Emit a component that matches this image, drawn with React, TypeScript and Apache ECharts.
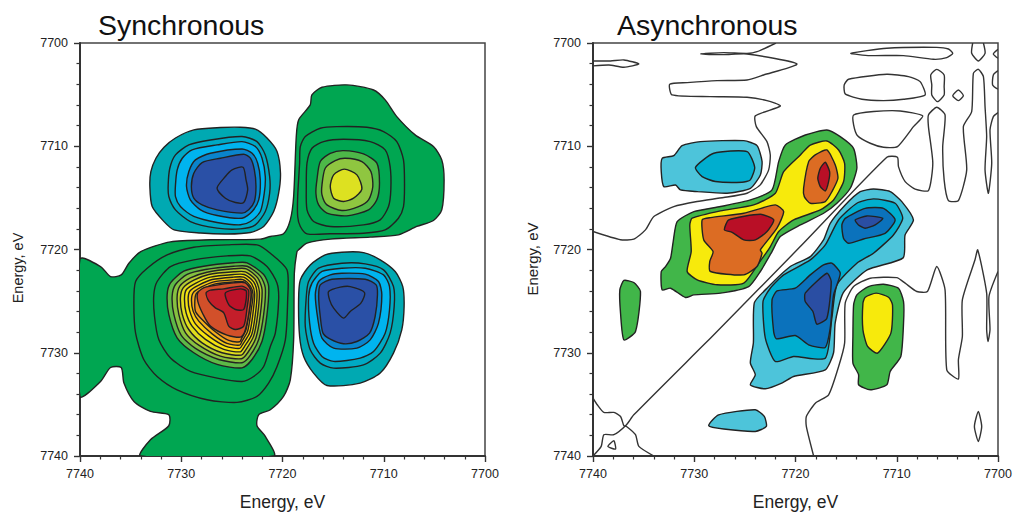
import React, { useEffect, useRef } from "react";
import * as echarts from "echarts";

// All contour vertices are [energy - 7700 on x, energy - 7700 on y], in eV.
type P = number[][];
const tickInterval = 10;
const axisMin = 7700;
const axisMax = 7740;
const panelTitles = ["Synchronous", "Asynchronous"];
const axisTitle = "Energy, eV";

// ---- Synchronous ----
const synGreenBase: P = [[40,20.94],[37.97,21.65],[36.98,22.62],[35.93,22.46],[35.17,21.33],[34,20.2],[31.06,19.26],[27.1,19.06],[22.19,19],[21.2,18.74],[19.9,18.48],[19.23,17.13],[18.9,14.87],[18.64,9.06],[18.41,7.45],[17.26,6],[17.1,5.03],[16.1,4.29],[13.64,4.06],[11,4.55],[9.86,5.51],[8.71,7.13],[6.9,8.9],[5.09,10.03],[4.27,11.32],[4.04,13.26],[4.27,16.16],[5.09,17.19],[6.74,17.77],[8.55,18.58],[11.34,18.8],[15.28,19],[17.58,19.39],[18.41,20.03],[18.57,20.2],[18.83,22.3],[18.9,28.75],[19.23,32.62],[19.9,34.23],[21.2,35.52],[22.35,36],[22.52,37.07],[21.7,38.1],[20.87,40],[34.02,40],[33.04,38.43],[31.23,37.07],[31.23,36],[33.04,35.68],[34.67,34.72],[35.66,32.94],[35.93,31.43],[36.98,31.43],[37.97,32.78],[40,34.23]];
const synUpperRing1: P = [[18.24,10.03],[17.75,9.06],[16.27,8.26],[14.63,8.1],[11.67,8.16],[10.02,8.58],[8.71,9.55],[8.05,11.32],[7.95,13.9],[8.05,15.84],[8.55,16.97],[9.86,18.1],[12,18.42],[15.28,18.48],[17.58,18.48],[18.24,17.77],[18.5,16.8],[18.5,14.87],[18.31,11.64]];
const synUpperRing2: P = [[17.58,11.64],[17.09,10.19],[15.94,9.55],[13.97,9.32],[11.34,9.55],[9.86,10.35],[9.37,11.97],[9.3,14.22],[9.53,15.84],[10.35,17.13],[12,17.61],[15.28,17.77],[16.93,17.29],[17.58,16.16],[17.65,13.9]];
const synUpperRing3: P = [[16.6,13.26],[16.27,11.48],[15.28,10.68],[13.97,10.42],[12,10.74],[10.68,11.64],[10.42,13.58],[10.68,15.19],[11.5,16.16],[13.64,16.74],[15.61,16.48],[16.43,15.68],[16.7,14.55]];
const synUpperRing4: P = [[16.1,13.74],[15.78,12.13],[14.79,11.39],[13.8,11.16],[12.16,11.48],[11.27,12.45],[11.08,13.9],[11.5,15.19],[12.49,15.84],[14.13,16.22],[15.61,15.68],[16.1,14.71]];
const synUpperRing5: P = [[15.28,13.9],[14.95,12.77],[13.9,12.22],[12.65,12.77],[12.16,14.16],[12.98,15.03],[13.97,15.35],[14.95,15.03]];

const synLowerRing1: P = [[34.68,25.2],[34.51,23.1],[33.36,21.81],[31.39,20.52],[28.76,19.78],[25.47,19.55],[22.52,19.55],[21.2,20.36],[19.56,21.97],[19.49,24.88],[19.72,28.75],[20.54,31.33],[21.37,32.94],[22.52,34.23],[24.49,34.81],[27.45,34.55],[30.41,33.59],[32.38,32.3],[33.69,30.68],[34.51,28.1]];
const synLowerRing2: P = [[32.71,24.39],[32.38,23.1],[31.06,21.65],[28.76,21],[25.47,20.62],[23.17,20.62],[21.53,21.65],[20.54,23.26],[20.38,24.88],[20.71,28.1],[21.2,29.39],[21.86,31.33],[22.85,32.3],[24,32.78],[26.46,32.46],[29.09,31.81],[31.06,30.52],[32.21,28.75],[32.64,26.49]];
const synHotRing0: P = [[31.39,24.36],[31.06,23.23],[29.75,22.1],[27.78,21.62],[24.82,21.29],[23.5,21.29],[21.86,22.42],[21.37,23.55],[21.53,26.29],[22.02,28.88],[23.01,30.65],[24,31.46],[26.46,31.13],[28.76,30],[30.41,28.55],[31.23,26.29]];
const synHotRing1: P = [[30.9,24.52],[30.57,23.39],[29.42,22.42],[27.61,21.94],[24.82,21.62],[23.5,21.62],[22.19,22.58],[21.7,23.71],[21.86,26.29],[22.35,28.71],[23.24,30.33],[24,30.97],[26.3,30.65],[28.6,29.58],[30.01,28.29],[30.73,26.29]];
const synHotRing2: P = [[30.41,24.62],[30.14,23.55],[29.09,22.75],[27.45,22.2],[24.82,21.87],[23.57,21.87],[22.45,22.75],[22.02,23.87],[22.19,26.29],[22.62,28.55],[23.44,30],[24.06,30.58],[26.13,30.33],[28.27,29.26],[29.58,28.07],[30.24,26.29]];
const synHotRing3: P = [[30.08,24.68],[29.81,23.71],[28.76,22.97],[27.28,22.42],[24.82,22.16],[23.67,22.16],[22.68,22.91],[22.29,24.04],[22.45,26.29],[22.85,28.39],[23.6,29.68],[24.06,30.23],[25.97,30],[27.94,29.04],[29.26,27.75],[29.91,26.23]];
const synHotRing4: P = [[29.68,24.75],[29.49,23.87],[28.5,23.23],[27.12,22.68],[24.82,22.42],[23.77,22.42],[22.85,23.13],[22.52,24.2],[22.68,26.29],[23.04,28.23],[23.77,29.42],[24.16,29.91],[25.8,29.68],[27.61,28.71],[28.93,27.42],[29.52,26.13]];
const synHotRing5: P = [[29.32,24.84],[29.16,24.04],[28.27,23.46],[26.95,22.91],[24.82,22.68],[23.83,22.68],[23.04,23.33],[22.75,24.29],[22.91,26.13],[23.24,28.07],[23.9,29.13],[24.23,29.58],[25.64,29.36],[27.28,28.39],[28.6,27.2],[29.16,25.97]];
const synHotRing6: P = [[28.99,24.94],[28.83,24.2],[28.04,23.65],[26.79,23.13],[24.82,22.94],[23.9,22.91],[23.17,23.55],[22.91,24.36],[23.11,25.97],[23.44,27.91],[24,28.88],[24.23,29.26],[25.48,29.1],[26.95,28.17],[28.27,26.94],[28.83,25.97]];
const synHotRing7: P = [[28.66,25],[28.53,24.29],[27.84,23.81],[26.63,23.33],[24.65,23.13],[23.83,23.13],[23.24,23.71],[23.08,24.42],[23.31,26.13],[23.6,27.75],[24.06,28.65],[24.23,28.94],[25.31,28.81],[26.63,27.97],[28.04,26.68],[28.6,25.97]];
const synHotRing8: P = [[28.34,24.13],[27.61,23.65],[24.82,23.23],[23.67,23.23],[23.11,24.04],[23.34,26.29],[23.77,28.07],[24.16,28.49],[25.48,28.29],[27.12,27.42],[27.84,26.29],[28.37,25]];
const synHotRing9: P = [[27.55,24.2],[27.12,23.94],[25.8,23.81],[24,23.55],[23.34,23.97],[23.5,25.65],[23.83,27.42],[24.65,27.75],[25.31,27.42],[25.8,26.13],[26.63,25.65],[27.28,25]];
const synHotRing10: P = [[25.64,24.2],[24.16,23.81],[23.57,24.04],[23.83,25.81],[24.65,25.81],[25.31,25.33]];

const synBlueA1: P = [[33.1,13.9],[33,12.45],[32.5,11.16],[31.7,10.1],[30.57,9.2],[28.76,8.42],[26.13,8.19],[24.16,8.16],[22.68,8.35],[21.53,9.2],[20.54,10.5],[20.2,12.6],[20.38,14.55],[20.87,16.32],[21.86,17.77],[23.17,18.35],[25.47,18.5],[28.1,18.4],[30.7,18.1],[31.7,17.3],[32.87,15.84]];
const synBlueA2: P = [[31.29,13.74],[31.13,12.13],[30.57,10.84],[29.25,9.87],[27.12,9.39],[24,9.06],[22.52,9.55],[21.7,10.84],[21.27,12.93],[21.27,14.55],[21.7,16.32],[22.68,17.61],[24.16,18],[26.46,17.93],[29.1,17.29],[30.57,16.16],[31.23,14.87]];
const synBlueA3: P = [[30.57,13.74],[30.4,12.29],[29.9,11.16],[28.93,10.35],[26.46,9.87],[24,9.55],[22.68,10.03],[22.02,11.16],[21.7,12.93],[21.8,14.55],[22.19,16.32],[23.17,17.29],[24.16,17.61],[26.46,17.39],[28.76,16.8],[30.08,15.84],[30.57,14.87]];
const synBlueA4: P = [[29.48,13.9],[29.25,12.45],[28.6,11.32],[27.12,10.68],[24,10.26],[23,10.68],[22.45,11.64],[22.19,13.26],[22.35,15.19],[23,16.32],[24,16.97],[26.46,16.71],[28.1,16.16],[29.1,15.19]];
const synBlueA5: P = [[29,13.9],[28.76,12.61],[27.94,11.58],[26.13,11.16],[23.83,10.77],[23.17,11.16],[22.78,12.29],[22.62,13.9],[22.78,15.35],[23.34,16.16],[24,16.48],[26.46,16.16],[27.94,15.68],[28.76,15.03]];
const synBlueA6: P = [[26.46,14.06],[25.64,12.93],[24.98,12.29],[23.9,12.03],[23.6,13.26],[23.44,14.23],[23.83,15.45],[24.65,15.45],[25.64,15.03]];

const synBlueB1: P = [[18.41,24.88],[18.24,22.94],[17.26,21.49],[15.78,20.52],[14.13,20.26],[12,20.3],[10.35,21],[8.87,22.13],[8.12,23.59],[7.99,25.52],[8.22,27.78],[9.04,30.04],[10.35,31.97],[12.33,32.94],[15.61,33.17],[16.93,31.97],[17.91,30.36],[18.31,28.43]];
const synBlueB2: P = [[17.65,24.55],[17.42,23.1],[16.43,21.81],[14.13,21.33],[11.83,21.39],[10.02,21.97],[9.04,23.59],[8.97,25.52],[9.37,28.1],[10.35,30.04],[12,31.17],[14.95,31.49],[16.27,31],[17.26,29.72],[17.75,27.46]];
const synBlueB3: P = [[17.42,24.55],[17.09,23.26],[16.1,22.13],[14.13,21.81],[11.83,21.81],[10.02,22.46],[9.43,23.59],[9.43,25.84],[9.86,28.1],[11.01,29.88],[12.33,30.52],[14.95,30.84],[16.1,30.36],[16.93,29.07],[17.32,27.13]];
const synBlueB4: P = [[16.76,24.39],[16.43,23.1],[15.28,22.46],[14.13,22.3],[11.83,22.39],[10.52,23.1],[10.19,24.39],[10.52,27.13],[11.34,28.75],[12.65,29.55],[14.95,29.55],[16.1,28.59],[16.5,26.81]];
const synBlueB5: P = [[16.43,24.55],[16.27,23.43],[15.12,22.88],[11.83,22.88],[10.75,23.43],[10.62,24.39],[10.85,26.49],[11.4,28.1],[12.65,28.91],[13.97,29.13],[15.28,28.68],[16,28.1],[16.27,26.49]];
const synBlueB6: P = [[15.45,24.07],[14.3,23.65],[13.31,23.59],[11.9,24.17],[12.26,25.2],[13.31,26],[13.97,26.65],[14.95,25.68],[15.35,24.88]];

// ---- Asynchronous ----
const asyGreenMain: P = [[33.26,22.13],[32.84,21.65],[32.34,20.84],[32.08,19.23],[31.69,17.3],[30.04,16.33],[27.41,15.84],[24.45,15.2],[22.32,14.23],[21.66,11.49],[21,9.88],[19.03,8.91],[16.9,8.42],[15.58,9.07],[14.27,10.2],[13.94,12.13],[14.59,14.07],[15.91,15.52],[17.22,16.49],[19.52,17.62],[21.5,18.75],[22.32,20.2],[23.47,22.13],[24.62,23.59],[27.41,24.23],[30.04,24.39],[30.86,24.65],[32.34,23.75],[33.17,23.91]];
const asyYellowMain: P = [[30.7,22.13],[30.3,20.2],[30.44,17.62],[30.21,16.97],[27.41,16.26],[24.13,15.68],[21.99,14.55],[21.17,12.46],[19.52,10.84],[18.54,9.88],[16.9,9.49],[15.74,10.36],[15.15,11.65],[15.25,13.42],[16.24,15.2],[17.55,16.17],[20.18,17.13],[21.66,18.26],[22.48,19.71],[23.63,21.33],[25.11,23.26],[27.74,23.42],[29.71,22.94]];
const asyOrangeA: P = [[29.22,17.13],[28.4,16.91],[25.11,16.49],[21.99,15.68],[21.17,16.33],[21.83,17.94],[23.47,20.04],[23.3,20.36],[23.8,21.65],[25.11,22.46],[28.4,22.13],[28.47,21.17],[28.14,20.2],[29.06,19.07]];
const asyRedA: P = [[27.02,18.1],[26.59,17.13],[23.47,16.59],[22.15,17.13],[22.81,18.26],[23.96,19.07],[25.11,19.07],[26.26,18.33]];
const asyOrangeB: P = [[19.2,14.07],[18.7,11.49],[18.05,10.84],[16.9,10.36],[16.07,11.81],[15.81,13.1],[16.4,14.39],[17.06,15.36],[18.54,15.52],[19.13,14.88]];
const asyRedB: P = [[17.8,13.1],[17.55,12.13],[17.06,11.55],[16.63,12.46],[16.73,13.42],[17.06,14.33],[17.55,13.91]];
const asyCyanUpperLight: P = [[33.17,11.17],[32.02,10.91],[31.2,9.94],[29.39,9.55],[25.11,9.46],[23.8,9.94],[23.3,11.49],[23.47,12.78],[24.45,14.07],[26.76,14.55],[29.71,14.39],[31.36,14.23],[31.85,13.75],[33,13.91],[33.26,12.46]];
const asyCyanUpperMid: P = [[29.88,12.04],[28.07,10.68],[24.78,10.52],[24.03,12.04],[24.46,13.26],[25.28,13.49],[27.91,13.42],[29.22,12.94]];
const asyCyanLight: P = [[24.07,25.17],[24.16,29.04],[24.46,30.98],[23.97,32.14],[24.46,33.11],[22.98,33.49],[21.3,32.91],[20.19,32.3],[17.06,31.65],[16.24,30],[16.08,27.1],[15.29,24.2],[12.92,21.98],[9.37,20.81],[9.18,18.59],[8.35,17.14],[9.5,15.36],[10.65,14.39],[12.3,14.14],[13.61,14.4],[15.09,15.69],[16.57,17.46],[17.23,19.07],[18.54,20.69],[20.52,21.65],[22.82,23.75]];
const asyCyanMid: P = [[23.21,25.04],[22.98,28.59],[21.99,30.85],[20.19,30.36],[17.06,30.53],[16.41,26.65],[15.91,23.43],[13.94,21.33],[12.3,20.36],[10.33,18.59],[9.41,16.98],[10.16,15.52],[12.3,15.1],[13.94,15.52],[15.75,17.14],[17.06,19.56],[18.54,21.01],[21.17,22.46],[22.49,23.75]];
const asyBlueLower: P = [[22.32,24.88],[22.16,27.94],[21.9,28.65],[20.02,28.33],[18.71,29.23],[17.06,29.49],[16.57,27.62],[16.24,24.4],[15.58,22.3],[16.41,21.33],[17.23,21.49],[18.54,22.46],[20.02,23.75],[21.83,24.01]];
const asyNavyLower: P = [[19.04,24.23],[16.9,22.3],[16.47,23.1],[16.9,26.65],[17.89,27.23],[18.28,26.01],[19.04,25.04]];
const asyBlueUpper: P = [[15.42,17.62],[15.09,16.98],[13.12,16.01],[11.31,16.01],[10.16,17.14],[11.15,18.43],[13.28,18.98],[14.76,19.4],[15.26,18.91]];
const asyNavyUpper: P = [[14.11,17.14],[12.96,16.75],[11.38,16.98],[12.13,17.62],[13.12,17.94],[13.78,17.62]];
const asyGreenRight: P = [[14.26,25.36],[13.94,24.39],[12.79,23.59],[11.31,23.36],[9.83,23.75],[9.33,25.04],[9.33,27.14],[9.6,30.36],[10.65,31.81],[10.98,33.1],[12.62,33.59],[13.77,33.1],[13.77,32.13],[14.33,31],[14.33,28.43]];
const asyYellowRight: P = [[13.34,25.2],[13.11,24.62],[12.03,24.23],[10.81,24.62],[10.42,25.36],[10.58,28.1],[11.9,30.04],[12.88,29.39],[13.34,27.78]];
const asyGreenLeft: P = [[37.35,23.91],[36.95,23],[35.97,23.2],[35.31,24.07],[35.8,27.94],[36.95,28.75],[37.28,26.17]];
const asyCyanBottom: P = [[28.57,37.07],[27.59,36.01],[23.97,35.52],[23.08,36.17],[22.88,37.14],[23.97,37.62],[27.09,37.39]];

// zero-level contours, lines only
const zeroTopLeft: P = [[40,1.74],[38.27,1.74],[36.95,1.64],[35.47,2.03],[36.95,2.35],[38.43,2.13],[40,2.22]];
const zeroUpperWander: P = [[21.93,0],[23.8,0.84],[24.79,1],[27.09,0.93],[29.39,1.06],[27.09,1.13],[24.79,1.06],[19.86,2.03],[23.15,3.1],[24.79,3.58],[27.75,3.64],[30.71,3.84],[32.42,4],[32.19,5.03],[28.41,5.19],[24.79,5.26],[22.82,5.58],[21.5,6.1],[23.97,7.06],[23.87,8.1],[22.82,9.55],[22.49,10.84],[22.65,12.29],[23.48,13.74],[24.79,14.55],[27.09,14.97],[29.72,15.35],[32.02,15.84],[33.99,16.81],[34.82,18.1],[35.97,19],[37.28,19.06],[40,18.26]];
const zeroDiagonal: P = [[40,40],[39.19,39.07],[38.93,37.94],[37.94,37.94],[36.69,36.97],[35.97,36.01],[29.06,29.23],[27.75,27.94],[19.53,19.72],[10.98,11.06],[9.93,11.06],[9.83,11.97],[9.17,13.42],[8.18,14.16],[6.87,14.29],[6.44,11.64],[6.87,8.1],[6.87,6.97],[6.05,6.22],[5.23,6.97],[5.46,10.03],[5.32,13.26],[4.9,15.26],[3.91,15.26],[3.09,12.29],[3.42,8.1],[2.6,6.64],[2.43,2.93],[1.94,2.55],[1.44,3.26],[1.28,6.16],[1.12,9.06],[1.28,12.29],[0.95,14.55],[0.62,11.64],[0.79,8.42],[0.46,7.13],[0,6.74]];
const zeroCornerLeft: P = [[40,34.39],[39.58,35.04],[38.93,35.78],[37.94,35.78],[37.28,36.17],[36.95,37.07],[36.69,37.14],[35.8,37.94],[35.47,39.07],[33.99,40]];
const zeroLowerWander: P = [[18.21,40],[18.93,37.14],[18.93,36.17],[18.04,34.88],[16.73,34.07],[15.74,31.33],[15.15,29.07],[15.09,25.2],[14.26,23.59],[12.62,22.78],[10,22.72],[9.17,23.26],[8.02,24.07],[6.97,24.07],[6.05,21.65],[5.23,23.91],[5.06,31.65],[3.91,32.55],[3.91,30.68],[3.52,28.43],[3.52,24.88],[2.27,21],[2,20.04],[1.12,24.23],[1.12,27.78],[0.99,28.91],[0.79,27.78],[0.89,24.55],[0,22.13]];
const zeroTopEdgeA: P = [[2.5,0],[2.6,1],[1.94,1.74],[1.28,1],[1.44,0]];
const zeroEdgeB: P = [[0,0.61],[0.46,1.06],[0,1.48]];
const zeroEdgeC: P = [[0,2.68],[0.46,3.09],[0.53,4.06],[0,4.48]];
const zeroLoopA: P = [[14.53,1],[10.98,0.51],[6.05,0.42],[4.9,0.58],[4.47,1],[5.06,1.42],[6.38,1.58],[9.33,1.22],[12.62,1.22]];
const zeroLoopB: P = [[15.19,4.06],[14.76,3.51],[10.98,3.03],[8.84,3.26],[7.69,3.74],[7.2,5.03],[9.33,5.45],[11.31,5.58],[13.44,5.45],[15.09,4.93]];
const zeroLoopC: P = [[14.26,6.97],[12.29,6.64],[9.66,6.58],[7.43,7.06],[8.35,8.1],[9.93,10.03],[11.31,10.1],[12.62,9.71],[13.87,8.99],[14.26,7.93]];
const zeroLoopD: P = [[6.64,3.09],[6.05,2.55],[5.32,3.09],[5.32,4.22],[5.32,5.03],[5.98,5.68],[6.54,5.03],[6.54,4.06]];
const zeroLoopE: P = [[4.47,5.1],[3.91,4.55],[3.42,5.1],[3.91,5.58]];
const zeroLoopF: P = [[38.53,39.07],[37.94,38.52],[37.77,39.33]];
const zeroLoopG: P = [[2.33,37.14],[1.94,35.68],[1.61,37.14],[1.94,38.59]];

// ---- styling ----
const C = {
  green: "#00A651", green2: "#4DB848", green3: "#8FC640", lime: "#DDE121",
  teal: "#00A9B2", teal2: "#00A9C4", sky: "#00B4EF", blue: "#0A84CC", navy: "#2A50A6",
  aCyanL: "#4DC4DA", aCyanM: "#00AECF", aBlue: "#0B72BC", aNavy: "#2A4EA3",
  aGreen: "#41B649", aYellow: "#F7EA0C", aOrange: "#DC6C23", aRed: "#B90F26",
};
const hotFills = ["#5DB947", "#86C040", "#B4CC30", "#E0DC1C", "#F6E30E", "#F9CC12", "#F4AE1B", "#EC8F22", "#D2502A", "#C41E2A", "#BC1129"];

type Contour = { pts: P; fill: string | null; closed: boolean };
const f = (pts: P, fill: string): Contour => ({ pts, fill, closed: true });
const loop = (pts: P): Contour => ({ pts, fill: null, closed: true });
const line = (pts: P): Contour => ({ pts, fill: null, closed: false });

const synContours: Contour[] = [
  f(synGreenBase, C.green),
  f(synUpperRing1, C.green), f(synUpperRing2, C.green), f(synUpperRing3, C.green2), f(synUpperRing4, C.green3), f(synUpperRing5, C.lime),
  f(synLowerRing1, C.green), f(synLowerRing2, C.green),
  ...[synHotRing0, synHotRing1, synHotRing2, synHotRing3, synHotRing4, synHotRing5, synHotRing6, synHotRing7, synHotRing8, synHotRing9, synHotRing10].map((r, i) => f(r, hotFills[i])),
  f(synBlueA1, C.teal), f(synBlueA2, C.teal2), f(synBlueA3, C.sky), f(synBlueA4, C.blue), f(synBlueA5, C.navy), f(synBlueA6, C.navy),
  f(synBlueB1, C.teal), f(synBlueB2, C.teal2), f(synBlueB3, C.sky), f(synBlueB4, C.blue), f(synBlueB5, C.navy), f(synBlueB6, C.navy),
];
const asyContours: Contour[] = [
  line(zeroTopLeft), line(zeroUpperWander), line(zeroDiagonal), line(zeroCornerLeft), line(zeroLowerWander),
  line(zeroTopEdgeA), line(zeroEdgeB), line(zeroEdgeC),
  loop(zeroLoopA), loop(zeroLoopB), loop(zeroLoopC), loop(zeroLoopD), loop(zeroLoopE), loop(zeroLoopF), loop(zeroLoopG),
  f(asyGreenMain, C.aGreen), f(asyYellowMain, C.aYellow), f(asyOrangeA, C.aOrange), f(asyRedA, C.aRed), f(asyOrangeB, C.aOrange), f(asyRedB, C.aRed),
  f(asyCyanUpperLight, C.aCyanL), f(asyCyanUpperMid, C.aCyanM),
  f(asyCyanLight, C.aCyanL), f(asyCyanMid, C.aCyanM), f(asyBlueLower, C.aBlue), f(asyNavyLower, C.aNavy), f(asyBlueUpper, C.aBlue), f(asyNavyUpper, C.aNavy),
  f(asyGreenRight, C.aGreen), f(asyYellowRight, C.aYellow), f(asyGreenLeft, C.aGreen), f(asyCyanBottom, C.aCyanL),
];

const FONT = '"Liberation Sans", Arial, sans-serif';

function contourSeries(list: Contour[], axisIndex: number, smooth: number) {
  return {
    type: "custom",
    xAxisIndex: axisIndex,
    yAxisIndex: axisIndex,
    coordinateSystem: "cartesian2d",
    clip: true,
    silent: true,
    encode: { x: 0, y: 1 },
    data: list.map((c, i) => [axisMin + c.pts[0][0], axisMin + c.pts[0][1], i]),
    renderItem: (_p: any, api: any) => {
      const c = list[api.value(2)];
      const points = c.pts.map((p) => api.coord([axisMin + p[0], axisMin + p[1]]));
      return {
        type: c.closed ? "polygon" : "polyline",
        shape: { points, smooth },
        style: {
          fill: c.fill ?? "none",
          stroke: c.fill === null ? "#333333" : "#222222",
          lineWidth: 1.4,
        },
      };
    },
  };
}

function axis(kind: "x" | "y", index: number) {
  return {
    type: "value",
    gridIndex: index,
    min: axisMin,
    max: axisMax,
    interval: tickInterval,
    inverse: true,
    position: kind === "x" ? "bottom" : "left",
    name: kind === "x" ? axisTitle : "",
    nameLocation: "middle",
    nameGap: 37,
    nameTextStyle: { fontFamily: FONT, fontSize: 17.5, color: "#222" },
    axisLine: { show: true, onZero: false, lineStyle: { color: "#333", width: 2 } },
    axisTick: { show: true, length: 6, inside: false, lineStyle: { color: "#333", width: 1.4 } },
    minorTick: { show: true, splitNumber: 5, length: 3.5, lineStyle: { color: "#333", width: 1.2 } },
    axisLabel: {
      fontFamily: FONT, fontSize: 12.5, color: "#222", margin: kind === "x" ? 11 : 12,
      showMinLabel: true, showMaxLabel: true, hideOverlap: false,
      formatter: (v: number) => String(v),
    },
    splitLine: { show: false },
    minorSplitLine: { show: false },
  };
}

const yTitle = (x: number, y: number, size: number) => ({
  type: "text",
  x,
  y,
  rotation: Math.PI / 2,
  silent: true,
  style: { text: axisTitle, fontFamily: FONT, fontSize: size, fill: "#222", textAlign: "center", textVerticalAlign: "middle" },
});

export default function App() {
  const ref = useRef<HTMLDivElement>(null);
  useEffect(() => {
    document.body.style.margin = "0";
    const chart = echarts.init(ref.current!, undefined, { renderer: "svg" });
    const gridBase = { top: 43, height: 413, show: true, backgroundColor: "#fff", borderColor: "#444", borderWidth: 1.5, containLabel: false, outerBoundsMode: "none" };
    chart.setOption({
      animation: false,
      backgroundColor: "#ffffff",
      title: [
        { text: panelTitles[0], left: 93, top: 5, textStyle: { fontFamily: FONT, fontSize: 28.5, fontWeight: "normal", color: "#111" } },
        { text: panelTitles[1], left: 612, top: 5, textStyle: { fontFamily: FONT, fontSize: 28.5, fontWeight: "normal", color: "#111" } },
      ],
      grid: [
        { ...gridBase, left: 80, width: 405 },
        { ...gridBase, left: 593, width: 405 },
      ],
      xAxis: [axis("x", 0), axis("x", 1)],
      yAxis: [axis("y", 0), axis("y", 1)],
      graphic: [yTitle(18, 268, 14.5), yTitle(532, 259, 15)],
      series: [contourSeries(synContours, 0, 0.25), contourSeries(asyContours, 1, 0.2)],
    });
    return () => chart.dispose();
  }, []);
  return <div ref={ref} style={{ position: "fixed", left: 0, top: 0, width: 1013, height: 512 }} />;
}
